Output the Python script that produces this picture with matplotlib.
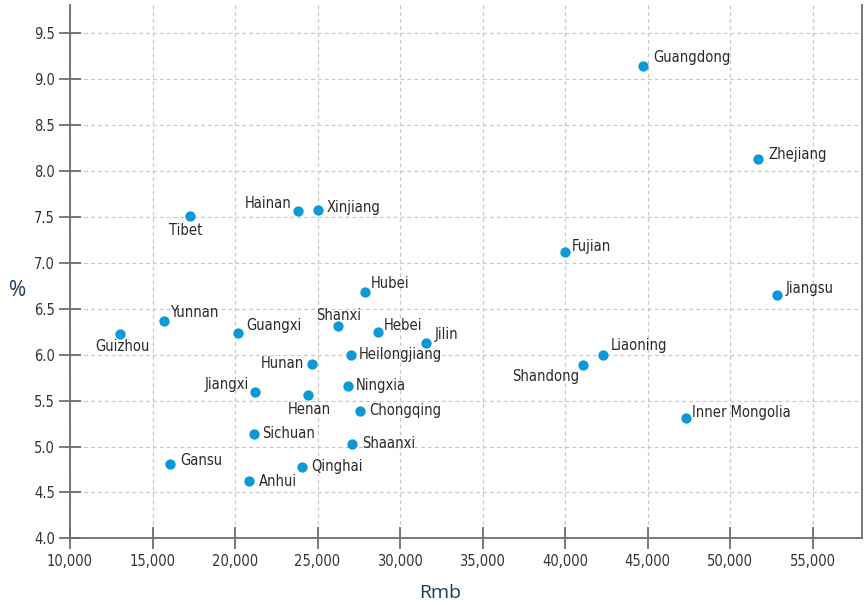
import matplotlib
matplotlib.use("Agg")
import matplotlib.pyplot as plt
from matplotlib.ticker import FuncFormatter
from matplotlib import font_manager

# ---- data ----
provinces = ["Guangdong", "Zhejiang", "Jiangsu", "Fujian", "Liaoning", "Shandong",
             "Inner Mongolia", "Tibet", "Hainan", "Xinjiang", "Hubei", "Shanxi",
             "Hebei", "Jilin", "Heilongjiang", "Hunan", "Guangxi", "Yunnan",
             "Guizhou", "Jiangxi", "Henan", "Ningxia", "Chongqing", "Sichuan",
             "Shaanxi", "Gansu", "Qinghai", "Anhui"]
income_rmb = [44730, 51700, 52850, 40000, 42300, 41090,
              47330, 17270, 23820, 25030, 27880, 26240,
              28670, 31580, 27030, 24670, 20180, 15700,
              13030, 21210, 24420, 26850, 27580, 21150,
              27090, 16060, 24060, 20850]
pct = [9.14, 8.13, 6.65, 7.12, 6.00, 5.89,
       5.31, 7.51, 7.565, 7.576, 6.68, 6.31,
       6.25, 6.13, 6.00, 5.90, 6.24, 6.37,
       6.23, 5.59, 5.56, 5.66, 5.39, 5.14,
       5.03, 4.81, 4.78, 4.62]
x_ticks = [10000, 15000, 20000, 25000, 30000, 35000, 40000, 45000, 50000, 55000]
y_ticks = [4.0, 4.5, 5.0, 5.5, 6.0, 6.5, 7.0, 7.5, 8.0, 8.5, 9.0, 9.5]

# label placement (offset in pixels: dx, dy(up), ha)
label_pos = {
    "Guangdong": (10, 9, "left"), "Zhejiang": (10, 5, "left"), "Jiangsu": (9, 7, "left"),
    "Fujian": (7, 5, "left"), "Liaoning": (8, 9, "left"), "Shandong": (-4, -12, "right"),
    "Inner Mongolia": (6, 6, "left"), "Tibet": (-4, -14, "center"), "Hainan": (-7, 8, "right"),
    "Xinjiang": (9, 3, "left"), "Hubei": (6, 9, "left"), "Shanxi": (1, 11, "center"),
    "Hebei": (6, 6, "left"), "Jilin": (9, 8, "left"), "Heilongjiang": (8, 0, "left"),
    "Hunan": (-8, 0, "right"), "Guangxi": (8, 7, "left"), "Yunnan": (6, 8, "left"),
    "Guizhou": (2, -13, "center"), "Jiangxi": (-6, 8, "right"), "Henan": (1, -14, "center"),
    "Ningxia": (8, 0, "left"), "Chongqing": (9, 0, "left"), "Sichuan": (8, 0, "left"),
    "Shaanxi": (10, 0, "left"), "Gansu": (10, 3, "left"), "Qinghai": (9, 0, "left"),
    "Anhui": (10, 0, "left"),
}

DPI = 100
PX = 72.0 / DPI  # points per pixel

names = {f.name for f in font_manager.fontManager.ttflist}
if "Liberation Sans Narrow" in names:
    narrow_fp = dict(family="Liberation Sans Narrow")
    LBL = 11.5
else:
    narrow_fp = dict(family="DejaVu Sans", stretch="condensed")
    LBL = 10.5

fig = plt.figure(figsize=(8.64, 6.05), dpi=DPI)
ax = fig.add_axes([70 / 864, 1 - 538.3 / 605, (862 - 70) / 864, (538.3 - 5) / 605])

ax.set_xlim(10000, 58000)
ax.set_ylim(4.0, 9.81)
ax.set_xticks(x_ticks)
ax.set_yticks(y_ticks)
ax.xaxis.set_major_formatter(FuncFormatter(lambda v, p: f"{int(v):,}"))
ax.yaxis.set_major_formatter(FuncFormatter(lambda v, p: f"{v:.1f}"))

ax.grid(True, color="#c8c8c8", linestyle=(0, (3, 2.5)), linewidth=0.9)
ax.set_axisbelow(True)

for s in ["left", "bottom", "right"]:
    ax.spines[s].set_color("#6e6e6e")
    ax.spines[s].set_linewidth(1.3)
ax.spines["top"].set_visible(False)

ax.tick_params(axis="both", direction="inout", length=16, width=1.3, color="#6e6e6e",
               labelcolor="#333333")
ax.tick_params(axis="x", pad=3)
ax.tick_params(axis="y", pad=3)
for lab in ax.get_xticklabels() + ax.get_yticklabels():
    lab.set_fontfamily(narrow_fp["family"])
    if "stretch" in narrow_fp:
        lab.set_fontstretch(narrow_fp["stretch"])
    lab.set_fontsize(LBL)

ax.scatter(income_rmb, pct, s=55, color="#0a9ad8", zorder=3, linewidths=0)

for name, xv, yv in zip(provinces, income_rmb, pct):
    dx, dy, ha = label_pos[name]
    ax.annotate(name, (xv, yv), xytext=(dx * PX, dy * PX), textcoords="offset points",
                ha=ha, va="center", fontsize=LBL, color="#2a2a2a", zorder=4, **narrow_fp)

lab_font = ["Open Sans", "DejaVu Sans"]
fig.text(18 / 864, 1 - 290 / 605, "%", family=lab_font, fontsize=15, color="#1b3a5c",
         ha="center", va="center")
fig.text(440 / 864, 1 - 593 / 605, "Rmb", family=lab_font, fontsize=14, color="#1b3a5c",
         ha="center", va="center")

fig.savefig("out.png", dpi=DPI)
